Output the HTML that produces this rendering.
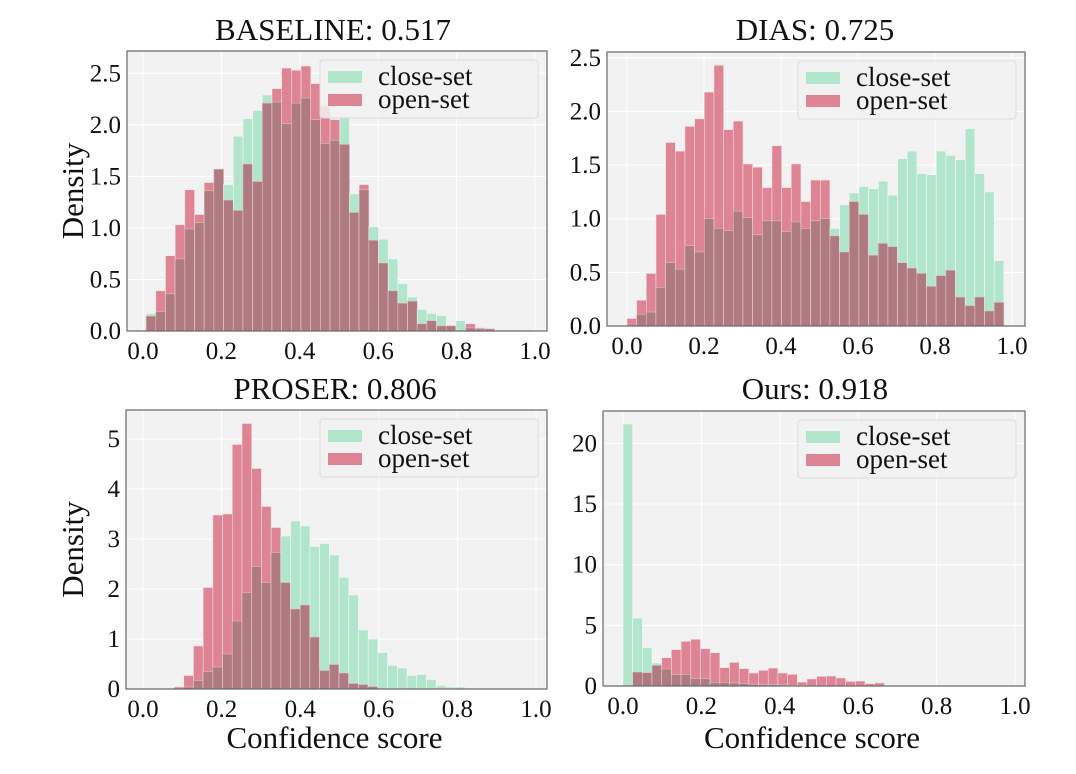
<!DOCTYPE html>
<html><head><meta charset="utf-8"><style>
html,body{margin:0;padding:0;background:#fff;}
svg{display:block;font-family:"Liberation Serif",serif;}
</style></head><body>
<svg id="fig" width="1076" height="774" viewBox="0 0 1076 774" xmlns="http://www.w3.org/2000/svg"></svg>
<script>
// ---- data ----
const baselineClose = [0.17,0.19,0.36,0.70,0.99,1.05,1.36,1.57,1.42,1.89,2.06,2.14,2.29,2.22,2.01,2.21,2.26,2.05,1.82,1.85,2.09,1.33,1.37,1.01,0.89,0.70,0.46,0.33,0.21,0.17,0.15,0.05,0.10,0.03,0.02,0.02,0.01,0.01,0.01,0.0];
const baselineOpen  = [0.145,0.39,0.73,1.03,1.37,1.13,1.44,1.57,1.27,1.17,1.62,1.45,2.21,2.35,2.55,2.53,2.57,2.40,2.18,2.05,1.81,1.15,1.42,0.88,0.66,0.39,0.27,0.29,0.07,0.10,0.05,0.05,0.0,0.07,0.03,0.02,0.0,0.0,0.0,0.0];
const diasClose = [0,0.11,0.13,0.36,0.59,0.53,0.75,0.69,1.0,0.91,0.89,1.07,1.01,0.85,0.98,0.98,0.88,0.97,0.91,0.98,1.0,0.91,1.13,1.24,1.30,1.28,1.35,1.22,1.56,1.63,1.42,1.41,1.63,1.59,1.55,1.84,1.42,1.25,0.61];
const diasOpen  = [0.07,0.24,0.49,1.04,1.71,1.63,1.86,1.93,2.18,2.43,1.83,1.91,1.51,1.48,1.29,1.68,1.29,1.51,1.16,1.36,1.36,0.84,0.69,1.16,1.04,0.66,0.77,0.74,0.59,0.54,0.49,0.37,0.47,0.52,0.27,0.19,0.27,0.14,0.22];
const proserClose = [0,0.04,0.17,0.35,0.44,0.70,1.36,1.93,2.45,2.13,2.73,3.06,3.36,3.26,2.85,2.91,2.68,2.23,1.88,1.18,1.0,0.73,0.47,0.42,0.27,0.29,0.19,0.07,0.04,0.04,0.02,0.01,0.01];
const proserOpen  = [0.04,0.27,0.86,2.03,3.48,3.50,4.89,5.31,4.41,3.65,3.23,2.13,1.60,1.68,1.04,0.37,0.49,0.32,0.11,0.09,0.05,0,0,0,0,0,0,0,0,0,0,0,0];
const oursClose = [21.6,5.6,3.15,1.9,1.4,0.95,0.95,0.6,0.6,0.3,0.3,0.25,0.2,0.15,0.1,0.1,0.08,0.05,0.05,0.03,0.02,0.02,0.01,0.01,0.01,0.01,0.01];
const oursOpen  = [0.05,1.15,1.1,1.7,2.33,3.0,3.68,3.85,3.08,2.75,1.51,1.95,1.43,1.07,1.29,1.48,1.07,0.96,0.33,0.58,0.8,0.82,0.66,0.38,0.41,0.19,0.25];
const xTicks = [0,0.2,0.4,0.6,0.8,1.0];
const xTickLabels = ["0.0","0.2","0.4","0.6","0.8","1.0"];
const yTicksSmall = [0,0.5,1.0,1.5,2.0,2.5];
const yTickLabelsSmall = ["0.0","0.5","1.0","1.5","2.0","2.5"];
const yTicksProser = [0,1,2,3,4,5];
const yTicksOurs = [0,5,10,15,20];
const titles = ["BASELINE: 0.517","DIAS: 0.725","PROSER: 0.806","Ours: 0.918"];

const NS="http://www.w3.org/2000/svg";
const svg=document.getElementById('fig');
function mk(tag,attrs,parent){const e=document.createElementNS(NS,tag);for(const k in attrs)e.setAttribute(k,attrs[k]);(parent||svg).appendChild(e);return e;}

const panels=[
 {key:'baseline',L:127,T:51,R:547,B:331,x0:143,x1:535,unit:103.1,start:0.008,bw:0.0247,close:baselineClose,open:baselineOpen,yt:yTicksSmall,yl:yTickLabelsSmall,title:titles[0],ylab:true,xlab:false,tx:333,ty:40},
 {key:'dias',L:607,T:52,R:1025,B:326,x0:627,x1:1012,unit:107.3,start:0,bw:0.0251,close:diasClose,open:diasOpen,yt:yTicksSmall,yl:yTickLabelsSmall,title:titles[1],ylab:false,xlab:false,tx:815,ty:40},
 {key:'proser',L:126,T:410,R:547,B:689,x0:143,x1:536,unit:50,start:0.079,bw:0.0247,close:proserClose,open:proserOpen,yt:yTicksProser,yl:yTicksProser.map(String),title:titles[2],ylab:true,xlab:true,tx:335,ty:399},
 {key:'ours',L:603,T:411,R:1025,B:686,x0:623,x1:1015,unit:12.13,start:0,bw:0.0247,close:oursClose,open:oursOpen,yt:yTicksOurs,yl:yTicksOurs.map(String),title:titles[3],ylab:false,xlab:true,tx:815,ty:399}
];

panels.forEach(p=>{
 const g=mk('g',{});
 
 
 const xs=v=>p.x0+(p.x1-p.x0)*v;
 const ys=v=>p.B-v*p.unit;
 const bg=mk('rect',{x:p.L,y:p.T,width:p.R-p.L,height:p.B-p.T,fill:'#f2f2f2'},g);
 
 
 xTicks.forEach(t=>{mk('line',{x1:xs(t),x2:xs(t),y1:p.T,y2:p.B,stroke:'#fff','stroke-width':1},g);});
 p.yt.forEach(t=>{mk('line',{x1:p.L,x2:p.R,y1:ys(t),y2:ys(t),stroke:'#fff','stroke-width':1},g);});
 const n=Math.max(p.close.length,p.open.length);
 for(let i=0;i<n;i++){
  const c=p.close[i]||0,o=p.open[i]||0;
  const x=xs(p.start+i*p.bw),w=xs(p.start+(i+1)*p.bw)-x;
  if(c>0){const r=mk('rect',{x:x,y:ys(c),width:w,height:c*p.unit,fill:'#b1e6cc',stroke:'#f6f6f6','stroke-width':0.6},g);
   
   }
  if(o>0){const r=mk('rect',{x:x,y:ys(o),width:w,height:o*p.unit,fill:'#de8494',stroke:'#f3dfe3','stroke-width':0.6},g);
   
   }
  const m=Math.min(c,o);
  if(m>0){const r=mk('rect',{x:x,y:ys(m),width:w,height:m*p.unit,fill:'#b07b80',stroke:'#d9c0c2','stroke-width':0.6},g);
   
   }
 }
 const fr=mk('rect',{x:p.L,y:p.T,width:p.R-p.L,height:p.B-p.T,fill:'none',stroke:'#666','stroke-width':1.2},g);
 
 
 xTicks.forEach((t,i)=>{const tx=mk('text',{x:xs(t),y:p.B+28,'font-size':25,'text-anchor':'middle',fill:'#111'},g);tx.textContent=xTickLabels[i];
  
  });
 p.yt.forEach((t,i)=>{const tx=mk('text',{x:p.L-6,y:ys(t)+8,'font-size':25,'text-anchor':'end',fill:'#111'},g);tx.textContent=p.yl[i];
  
  });
 const tt=mk('text',{x:p.tx,y:p.ty,'font-size':31,'text-anchor':'middle',fill:'#111'},g);tt.textContent=p.title;
 
 
 if(p.ylab){const cy=(p.T+p.B)/2;const t=mk('text',{x:0,y:0,'font-size':31,'text-anchor':'middle',fill:'#111',transform:`translate(83,${cy}) rotate(-90)`},g);t.textContent='Density';
  
  }
 if(p.xlab){const t=mk('text',{x:(p.L+p.R)/2+-2,y:748,'font-size':31,'text-anchor':'middle',fill:'#111'},g);t.textContent='Confidence score';
  
  }
 // legend
 const lx=p.R-9-218,ly=p.T+9;
 const lg=mk('g',{},g);
 
 
 mk('rect',{x:lx,y:ly,width:218,height:58,rx:3,fill:'#f2f2f2','fill-opacity':0.85,stroke:'#dcdcdc','stroke-width':1},lg);
 const e1=mk('rect',{x:lx+8,y:ly+11,width:34,height:12,fill:'#b1e6cc'},lg);
 
 
 const t1=mk('text',{x:lx+58,y:ly+25,'font-size':27,fill:'#111'},lg);t1.textContent='close-set';
 
 
 const e2=mk('rect',{x:lx+8,y:ly+34,width:34,height:12,fill:'#de8494'},lg);
 
 
 const t2=mk('text',{x:lx+58,y:ly+48,'font-size':27,fill:'#111'},lg);t2.textContent='open-set';
 
 
});
</script>
</body></html>
